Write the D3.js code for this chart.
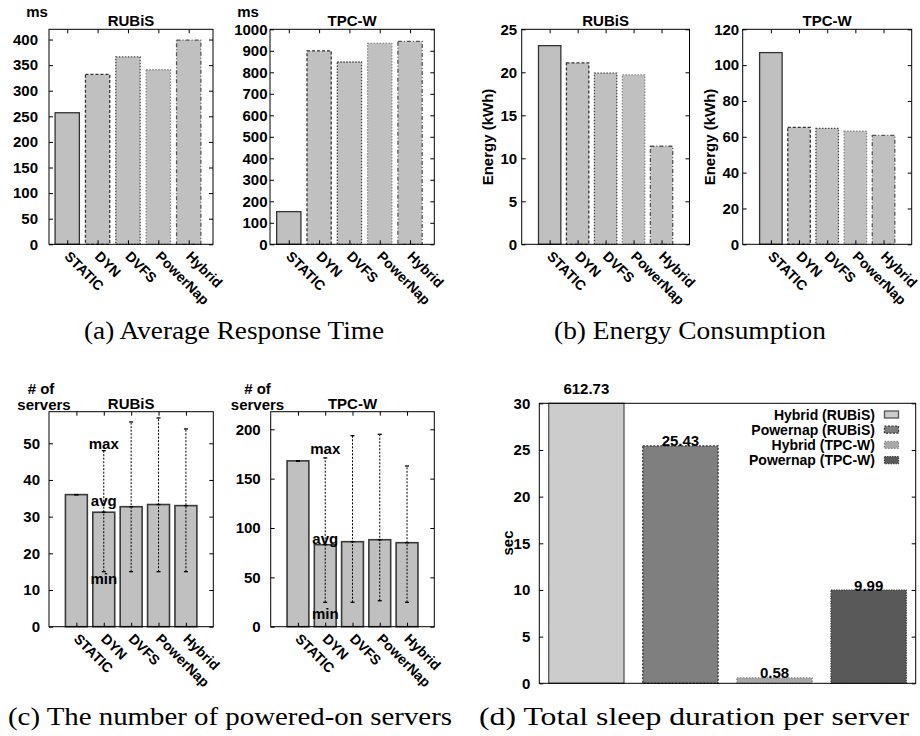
<!DOCTYPE html>
<html>
<head>
<meta charset="utf-8">
<script src="https://cdn.jsdelivr.net/npm/d3@7"></script>
<style>
body { margin: 0; background: #fff; }
svg { display: block; background: #fff; }
text { font-family: "Liberation Sans", Arial, sans-serif; font-weight: bold; fill: #000; }
text.cap { font-family: "Liberation Serif", "DejaVu Serif", serif; font-weight: normal; }
</style>
</head>
<body>
<svg id="fig" width="920" height="736"></svg>
<script>
// ---- data ----
const methods = ['STATIC', 'DYN', 'DVFS', 'PowerNap', 'Hybrid'];

const rtRubis = [257, 332, 366, 341, 399];
const rtTpcw = [152, 900, 848, 935, 944];
const rtRubisTicks = [0, 50, 100, 150, 200, 250, 300, 350, 400];
const rtTpcwTicks = [0, 100, 200, 300, 400, 500, 600, 700, 800, 900, 1000];

const energyRubis = [23.1, 21.1, 19.9, 19.7, 11.4];
const energyTpcw = [107, 65.3, 64.7, 63.1, 60.8];
const energyRubisTicks = [0, 5, 10, 15, 20, 25];
const energyTpcwTicks = [0, 20, 40, 60, 80, 100, 120];

const serversRubisAvg = [36, 31.2, 32.7, 33.3, 33.0];
const serversRubisMin = [36, 15, 15, 15, 15];
const serversRubisMax = [36, 48, 55.8, 56.9, 53.9];
const serversTpcwAvg = [168, 83.1, 86.1, 88.1, 85.1];
const serversTpcwMin = [168, 24.7, 24.7, 26.3, 24.7];
const serversTpcwMax = [168, 171, 193.5, 194.9, 162.8];
const serversRubisTicks = [0, 10, 20, 30, 40, 50];
const serversTpcwTicks = [0, 50, 100, 150, 200];
// min/avg/max annotations next to the DYN bar (value = label centre)
const notesRubis = [['max', 49.8], ['avg', 34.3], ['min', 13]];
const notesTpcw = [['max', 180], ['avg', 89], ['min', 13]];

const sleepSeries = ['Hybrid (RUBiS)', 'Powernap (RUBiS)', 'Hybrid (TPC-W)', 'Powernap (TPC-W)'];
const sleepSec = [612.73, 25.43, 0.58, 9.99];
const sleepTicks = [0, 5, 10, 15, 20, 25, 30];

// bar outline styles (gnuplot line types)
const methodStyle = [
  { stroke: '#333', dash: null },
  { stroke: '#333', dash: '3,2' },
  { stroke: '#444', dash: '1.5,1.5' },
  { stroke: '#888', dash: '1.5,1.5' },
  { stroke: '#555', dash: '4,2,1,2' }
];
const sleepStyle = [
  { fill: '#cccccc', stroke: '#555', dash: null },
  { fill: '#7f7f7f', stroke: '#333', dash: '2,1.5' },
  { fill: '#a8a8a8', stroke: '#888', dash: '1.5,1.5' },
  { fill: '#595959', stroke: '#444', dash: '1.5,1' }
];

const svg = d3.select('#fig');

function clean(g) {
  g.select('.domain').remove();
  g.attr('font-family', null).attr('fill', null);
  g.selectAll('.tick line').attr('stroke', '#000');
}

function drawPanel(o) {
  const n = o.values.length;
  const x = d3.scaleLinear().domain(o.xDomain).range([o.left, o.right]);
  const y = d3.scaleLinear().domain(o.yDomain).range([o.bottom, o.top]);
  const g = svg.append('g');
  const fs = o.fontSize || 15;
  const yMax = o.yDomain[1];

  // bars
  g.append('g').selectAll('rect')
    .data(o.values)
    .join('rect')
      .attr('x', (d, i) => x(i - 0.4))
      .attr('width', (d, i) => x(i + 0.4) - x(i - 0.4))
      .attr('y', d => y(Math.min(d, yMax)))
      .attr('height', d => y(0) - y(Math.min(d, yMax)))
      .attr('fill', (d, i) => o.fill ? o.fill(i) : '#c0c0c0')
      .attr('stroke', (d, i) => o.styles[i].stroke)
      .attr('stroke-width', o.strokeWidth || 1.3)
      .attr('stroke-dasharray', (d, i) => o.styles[i].dash);

  // min/max error bars
  if (o.mins) {
    const eb = g.append('g').attr('stroke', '#000').attr('stroke-width', 1);
    o.values.forEach((v, i) => {
      const cx = x(i);
      eb.append('line').attr('x1', cx).attr('x2', cx)
        .attr('y1', y(o.mins[i])).attr('y2', y(o.maxs[i]))
        .attr('stroke-dasharray', '2,1.5');
      [o.mins[i], o.maxs[i], v].forEach(t => {
        eb.append('line').attr('x1', cx - 2).attr('x2', cx + 2)
          .attr('y1', y(t)).attr('y2', y(t)).attr('stroke-width', 1.3);
      });
    });
    g.append('g').attr('font-size', fs).attr('text-anchor', 'middle')
      .selectAll('text').data(o.notes).join('text')
        .attr('x', x(1)).attr('y', d => y(d[1]))
        .attr('dy', '0.35em')
        .text(d => d[0]);
  }

  // value labels on top of bars
  if (o.valueLabels) {
    g.append('g').attr('font-size', fs).attr('text-anchor', 'middle')
      .selectAll('text').data(o.values).join('text')
        .attr('x', (d, i) => x(i))
        .attr('y', d => y(Math.min(d, yMax + 1)) + 0.5)
        .text(d => d3.format('.2f')(d));
  }

  // axes: ticks inward on all four sides
  g.append('g')
    .attr('transform', `translate(${o.left},0)`)
    .call(d3.axisLeft(y).tickValues(o.yTicks).tickSizeInner(-4).tickSizeOuter(0)
      .tickPadding(o.pad).tickFormat(d3.format('d')))
    .call(clean)
    .attr('font-size', fs);
  g.append('g')
    .attr('transform', `translate(${o.right},0)`)
    .call(d3.axisRight(y).tickValues(o.yTicks).tickSizeInner(-4).tickSizeOuter(0).tickFormat(''))
    .call(clean);

  if (o.cats) {
    g.append('g')
      .attr('transform', `translate(0,${o.top})`)
      .call(d3.axisTop(x).tickValues(d3.range(n)).tickSizeInner(-4).tickSizeOuter(0).tickFormat(''))
      .call(clean);
    const bx = g.append('g')
      .attr('transform', `translate(0,${o.bottom})`)
      .call(d3.axisBottom(x).tickValues(d3.range(n)).tickSizeInner(-4).tickSizeOuter(0).tickFormat(i => o.cats[i]))
      .call(clean)
      .attr('font-size', 14);
    bx.selectAll('.tick text')
      .attr('y', 0).attr('dy', null)
      .attr('text-anchor', 'start')
      .attr('transform', 'translate(-4,13) rotate(45)');
  }

  // frame
  g.append('rect')
    .attr('x', o.left).attr('y', o.top)
    .attr('width', o.right - o.left).attr('height', o.bottom - o.top)
    .attr('fill', 'none').attr('stroke', '#000').attr('stroke-width', 1);

  // title
  if (o.title) {
    g.append('text').attr('x', (o.left + o.right) / 2).attr('y', o.top - 3)
      .attr('text-anchor', 'middle').attr('font-size', fs).text(o.title);
  }
  return { x, y, g };
}

// ---- (a) response time ----
const a1 = drawPanel({ values: rtRubis, cats: methods, styles: methodStyle, title: 'RUBiS',
  left: 49, right: 213, top: 29.3, bottom: 244.3, xDomain: [-0.6, 4.8], yDomain: [0, 420],
  yTicks: rtRubisTicks, pad: 11 });
a1.g.append('text').attr('x', 37).attr('y', 16.5).attr('text-anchor', 'middle').attr('font-size', 15).text('ms');

const a2 = drawPanel({ values: rtTpcw, cats: methods, styles: methodStyle, title: 'TPC-W',
  left: 270, right: 434.3, top: 29.3, bottom: 244.3, xDomain: [-0.62, 4.8], yDomain: [0, 1000],
  yTicks: rtTpcwTicks, pad: 2.5 });
a2.g.append('text').attr('x', 248).attr('y', 16.5).attr('text-anchor', 'middle').attr('font-size', 15).text('ms');

// ---- (b) energy ----
const b1 = drawPanel({ values: energyRubis, cats: methods, styles: methodStyle, title: 'RUBiS',
  left: 521.7, right: 689.5, top: 29.3, bottom: 244.3, xDomain: [-1, 5], yDomain: [0, 25],
  yTicks: energyRubisTicks, pad: 4.5 });
b1.g.append('text').attr('transform', 'translate(493,137) rotate(-90)')
  .attr('text-anchor', 'middle').attr('font-size', 15).text('Energy (kWh)');

const b2 = drawPanel({ values: energyTpcw, cats: methods, styles: methodStyle, title: 'TPC-W',
  left: 742.7, right: 911.7, top: 29.3, bottom: 244.3, xDomain: [-1, 5], yDomain: [0, 120],
  yTicks: energyTpcwTicks, pad: 3.5 });
b2.g.append('text').attr('transform', 'translate(715,137) rotate(-90)')
  .attr('text-anchor', 'middle').attr('font-size', 15).text('Energy (kWh)');

// ---- (c) powered-on servers ----
const cStyle = methods.map(() => ({ stroke: '#3a3a3a', dash: null }));
const c1 = drawPanel({ values: serversRubisAvg, mins: serversRubisMin, maxs: serversRubisMax, notes: notesRubis,
  cats: methods, styles: cStyle, strokeWidth: 1.6, title: 'RUBiS',
  left: 49, right: 213.3, top: 411.7, bottom: 626.7, xDomain: [-1, 5], yDomain: [0, 58.6],
  yTicks: serversRubisTicks, pad: 9 });
c1.g.append('text').attr('x', 41).attr('y', 394).attr('text-anchor', 'middle').attr('font-size', 15).text('# of');
c1.g.append('text').attr('x', 44).attr('y', 409.5).attr('text-anchor', 'middle').attr('font-size', 15).text('servers');

const c2 = drawPanel({ values: serversTpcwAvg, mins: serversTpcwMin, maxs: serversTpcwMax, notes: notesTpcw,
  cats: methods, styles: cStyle, strokeWidth: 1.6, title: 'TPC-W',
  left: 270.7, right: 434.3, top: 411.7, bottom: 626.7, xDomain: [-1, 5], yDomain: [0, 217.8],
  yTicks: serversTpcwTicks, pad: 10 });
c2.g.append('text').attr('x', 257.5).attr('y', 394).attr('text-anchor', 'middle').attr('font-size', 15).text('# of');
c2.g.append('text').attr('x', 257.5).attr('y', 409.5).attr('text-anchor', 'middle').attr('font-size', 15).text('servers');

// ---- (d) sleep duration ----
const d = drawPanel({ values: sleepSec, styles: sleepStyle, fill: i => sleepStyle[i].fill, valueLabels: true,
  left: 539.3, right: 915.7, top: 403.3, bottom: 683.3, xDomain: [-0.5, 3.5], yDomain: [0, 30],
  yTicks: sleepTicks, pad: 9, fontSize: 15 });
d.g.append('text').attr('transform', 'translate(513,543) rotate(-90)')
  .attr('text-anchor', 'middle').attr('font-size', 15).text('sec');

const legend = d.g.append('g').attr('font-size', 14)
  .selectAll('g').data(sleepSeries).join('g')
    .attr('transform', (s, i) => `translate(875,${419.5 + i * 15.2})`);
legend.append('text').attr('text-anchor', 'end').text(s => s);
legend.append('rect')
  .attr('x', 9.5).attr('y', -8.5).attr('width', 14).attr('height', 7)
  .attr('fill', (s, i) => sleepStyle[i].fill)
  .attr('stroke', (s, i) => sleepStyle[i].stroke)
  .attr('stroke-dasharray', (s, i) => sleepStyle[i].dash)
  .attr('stroke-width', 1.3);

// ---- sub-figure captions (Computer Modern look: widen Times glyphs) ----
const captions = [
  ['(a) Average Response Time', 234, 339, 300],
  ['(b) Energy Consumption', 690, 339, 272],
  ['(c) The number of powered-on servers', 230, 725, 444],
  ['(d) Total sleep duration per server', 694, 725, 430]
];
svg.append('g').selectAll('text').data(captions).join('text')
  .attr('class', 'cap')
  .attr('x', c => c[1]).attr('y', c => c[2])
  .attr('text-anchor', 'middle').attr('font-size', 25)
  .attr('textLength', c => c[3]).attr('lengthAdjust', 'spacingAndGlyphs')
  .text(c => c[0]);
</script>
</body>
</html>
